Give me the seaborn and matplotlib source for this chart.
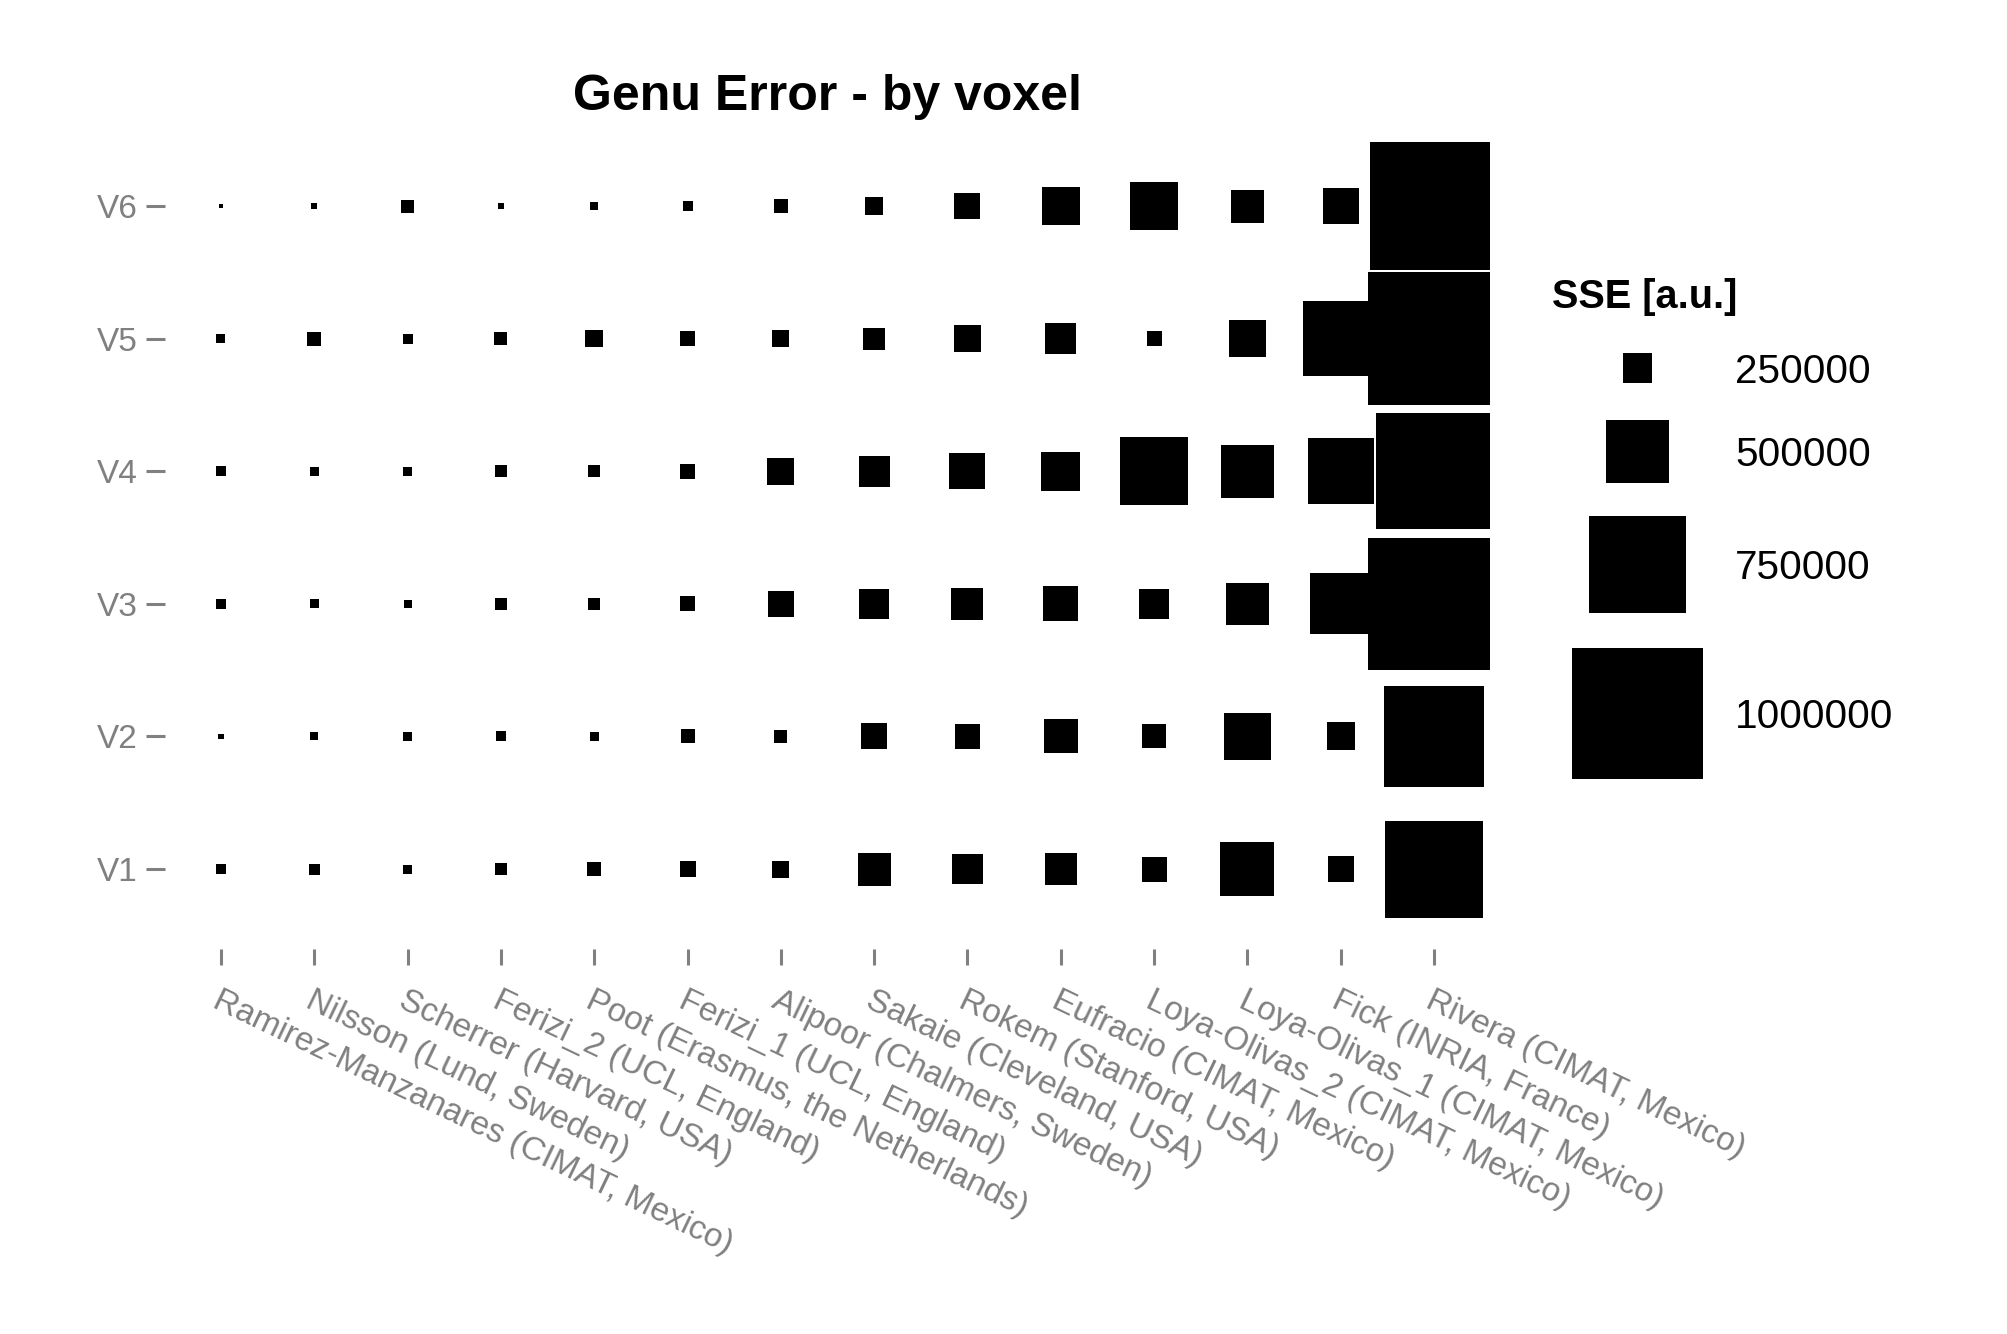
import numpy as np
import pandas as pd
import seaborn as sns
import matplotlib.pyplot as plt
from matplotlib.patches import Rectangle
from matplotlib.legend_handler import HandlerBase

teams = ["Ramirez-Manzanares (CIMAT, Mexico)", "Nilsson (Lund, Sweden)",
         "Scherrer (Harvard, USA)", "Ferizi_2 (UCL, England)",
         "Poot (Erasmus, the Netherlands)", "Ferizi_1 (UCL, England)",
         "Alipoor (Chalmers, Sweden)", "Sakaie (Cleveland, USA)",
         "Rokem (Stanford, USA)", "Eufracio (CIMAT, Mexico)",
         "Loya-Olivas_2 (CIMAT, Mexico)", "Loya-Olivas_1 (CIMAT, Mexico)",
         "Fick (INRIA, France)", "Rivera (CIMAT, Mexico)"]
voxels = ["V1", "V2", "V3", "V4", "V5", "V6"]

# SSE per voxel (rows) and team (columns)
sse_v1 = [101000, 109000, 94000, 116000, 131000, 146000, 153000, 272000, 254000, 268000, 213000, 428000, 220000, 748000]
sse_v2 = [68000, 87000, 94000, 101000, 94000, 131000, 124000, 220000, 217000, 280000, 205000, 376000, 235000, 777000]
sse_v3 = [101000, 94000, 87000, 120000, 116000, 139000, 224000, 254000, 265000, 287000, 250000, 343000, 480000, 1007000]
sse_v4 = [105000, 94000, 94000, 116000, 120000, 142000, 228000, 257000, 295000, 317000, 532000, 421000, 517000, 889000]
sse_v5 = [94000, 131000, 101000, 124000, 157000, 142000, 153000, 191000, 228000, 257000, 139000, 302000, 584000, 1015000]
sse_v6 = [57000, 72000, 124000, 72000, 87000, 101000, 131000, 161000, 220000, 309000, 384000, 272000, 295000, 978000]

legend_values = [250000, 500000, 750000, 1000000]

DPI = 200
W, H = 2007, 1334
GREY = "#808080"


def side_pt(v):
    # square side grows linearly with SSE (pixels -> points)
    return (1.3467e-4 * v - 3.67) * 72 / DPI


rows = []
for vox, vals in zip(voxels, [sse_v1, sse_v2, sse_v3, sse_v4, sse_v5, sse_v6]):
    for team, v in zip(teams, vals):
        rows.append({"team": team, "voxel": vox, "sse": v})
df = pd.DataFrame(rows)
size_map = {v: side_pt(v) ** 2 for v in df["sse"].unique()}

sns.set_style("white")
plt.rcParams["font.family"] = ["Liberation Sans", "DejaVu Sans"]
plt.rcParams["text.color"] = "black"

fig = plt.figure(figsize=(W / DPI, H / DPI), dpi=DPI)
ax = fig.add_axes([165 / W, 1 - 948.6 / H, (1490 - 165) / W, (948.6 - 126.5) / H])

sns.scatterplot(data=df, x="team", y="voxel", size="sse", sizes=size_map,
                marker="s", color="black", linewidth=0, legend=False, ax=ax)

ax.set_xlim(-0.6, len(teams) - 0.4)
ax.set_ylim(-0.6, len(voxels) - 0.4)
for s in ax.spines.values():
    s.set_visible(False)
ax.set_xlabel("")
ax.set_ylabel("")
ax.tick_params(axis="x", bottom=True, colors=GREY, length=5.8, width=1.1, pad=7.3, labelsize=12)
ax.tick_params(axis="y", left=True, colors=GREY, length=6.8, width=1.1, pad=3.1, labelsize=12)
for lab in ax.get_xticklabels():
    lab.set_rotation(-25.6)
    lab.set_ha("left")
    lab.set_va("top")
    lab.set_rotation_mode("anchor")

ax.set_title("Genu Error - by voxel", fontsize=18, fontweight="bold", pad=5.9, color="black")


class SquareKey(HandlerBase):
    def legend_artist(self, legend, orig_handle, fontsize, handlebox):
        side = orig_handle.get_width()
        centre = 85.5 * 72 / DPI
        handlebox.width = 151 * 72 / DPI
        handlebox.height = side * 1.07
        handlebox.ydescent = side * 1.07 / 2 - 0.36 * fontsize
        sq = Rectangle((centre - side / 2, -handlebox.ydescent + side * 0.035), side, side,
                       facecolor="black", linewidth=0)
        handlebox.add_artist(sq)
        return sq


fig.text(1552 / W, 1 - 308 / H, "SSE [a.u.]", fontsize=14.3, fontweight="bold",
         ha="left", va="baseline")

handles = [Rectangle((0, 0), side_pt(v), side_pt(v)) for v in legend_values]
leg = fig.legend(handles, [str(v) for v in legend_values],
                 handler_map={Rectangle: SquareKey()},
                 loc="upper left", bbox_to_anchor=(1552 / W, 1 - 352 / H),
                 bbox_transform=fig.transFigure, frameon=False,
                 fontsize=14.6, borderpad=0, borderaxespad=0,
                 labelspacing=0.66, handletextpad=0.79)

fig.savefig("out.png", dpi=DPI, facecolor="white")
